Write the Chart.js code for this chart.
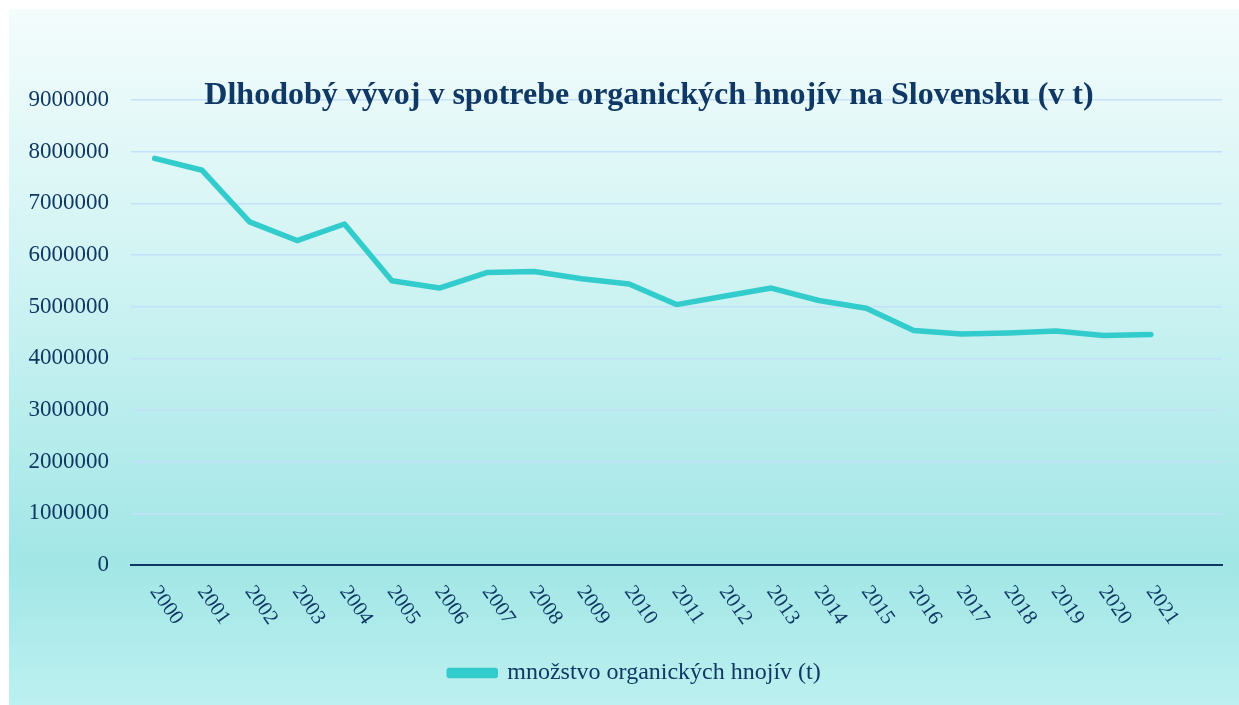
<!DOCTYPE html>
<html>
<head>
<meta charset="utf-8">
<script src="https://cdn.jsdelivr.net/npm/chart.js@4"></script>
<style>
  html, body { margin: 0; padding: 0; background: #fff; }
  #wrap { width: 1239px; height: 705px; }
</style>
</head>
<body>
<div id="wrap"><canvas id="chart" width="1239" height="705"></canvas></div>
<script>
const years = ["2000", "2001", "2002", "2003", "2004", "2005", "2006", "2007", "2008", "2009", "2010",
  "2011", "2012", "2013", "2014", "2015", "2016", "2017", "2018", "2019", "2020", "2021"];
const amounts = [7870000, 7640000, 6640000, 6280000, 6600000, 5500000, 5360000, 5660000, 5680000, 5540000, 5440000,
  5040000, 5200000, 5360000, 5120000, 4970000, 4540000, 4470000, 4490000, 4530000, 4440000, 4460000];
const yTicks = [0, 1000000, 2000000, 3000000, 4000000, 5000000, 6000000, 7000000, 8000000, 9000000];
const titleText = "Dlhodobý vývoj v spotrebe organických hnojív na Slovensku (v t)";
const seriesName = "množstvo organických hnojív (t)";

const navy = "#0f3864";
const lineColor = "#33cccc";
const serif = "'Liberation Serif', 'Times New Roman', serif";

// pozadie s prechodom
const bgPlugin = {
  id: "bg",
  afterLayout(chart) {
    // legenda je v originali trochu vpravo od stredu
    chart.legend.left += 24;
    chart.legend.right += 24;
  },
  beforeDraw(chart) {
    const c = chart.ctx;
    const g = c.createLinearGradient(0, 9, 0, 705);
    g.addColorStop(0, "#f4fcfc");
    g.addColorStop(0.35, "#d3f4f4");
    g.addColorStop(0.8, "#a2e6e6");
    g.addColorStop(1, "#bdf0f0");
    c.save();
    c.fillStyle = g;
    c.fillRect(9, 9, chart.width - 9, chart.height - 9);
    c.restore();
  }
};

// nadpis a otocene popisky osi x
const textPlugin = {
  id: "texts",
  afterDraw(chart) {
    const c = chart.ctx;
    const xs = chart.scales.x;
    c.save();
    c.fillStyle = navy;
    c.font = "21px " + serif;
    c.textAlign = "left";
    c.textBaseline = "top";
    years.forEach((y, i) => {
      const px = xs.getPixelForValue(i);
      c.save();
      c.translate(px + 8, xs.top + 17);
      c.rotate(55 * Math.PI / 180);
      c.fillText(y, 0, 0);
      c.restore();
    });
    c.font = "bold 32px " + serif;
    c.textAlign = "center";
    c.textBaseline = "alphabetic";
    c.fillText(titleText, 649, 104);
    c.restore();
  }
};

new Chart(document.getElementById("chart").getContext("2d"), {
  type: "line",
  data: {
    labels: [...years, ""],
    datasets: [{
      label: seriesName,
      data: amounts,
      borderColor: lineColor,
      backgroundColor: lineColor,
      borderWidth: 5.5,
      borderCapStyle: "round",
      borderJoinStyle: "round",
      pointRadius: 0,
      tension: 0
    }]
  },
  options: {
    responsive: false,
    animation: false,
    layout: { padding: { left: 0, right: 17, top: 100, bottom: 10 } },
    scales: {
      x: {
        offset: true,
        grid: { display: false, drawTicks: false },
        border: { display: true, color: navy, width: 2 },
        ticks: { display: false },
        afterFit(s) { s.height = 86; }
      },
      y: {
        min: 0,
        max: 9000000,
        afterBuildTicks(s) { s.ticks = yTicks.map(v => ({ value: v })); },
        grid: { color: "#c4e0fa", lineWidth: 1.5, drawTicks: false },
        border: { display: false },
        ticks: {
          padding: 22,
          color: navy,
          font: { family: serif, size: 23 },
          callback: v => String(v)
        },
        afterFit(s) { s.width = 131; }
      }
    },
    plugins: {
      legend: {
        position: "bottom",
        labels: {
          boxWidth: 46,
          boxHeight: 5,
          padding: 10,
          color: navy,
          font: { family: serif, size: 24 }
        }
      },
      title: { display: false },
      tooltip: { enabled: false }
    }
  },
  plugins: [bgPlugin, textPlugin]
});
</script>
</body>
</html>
